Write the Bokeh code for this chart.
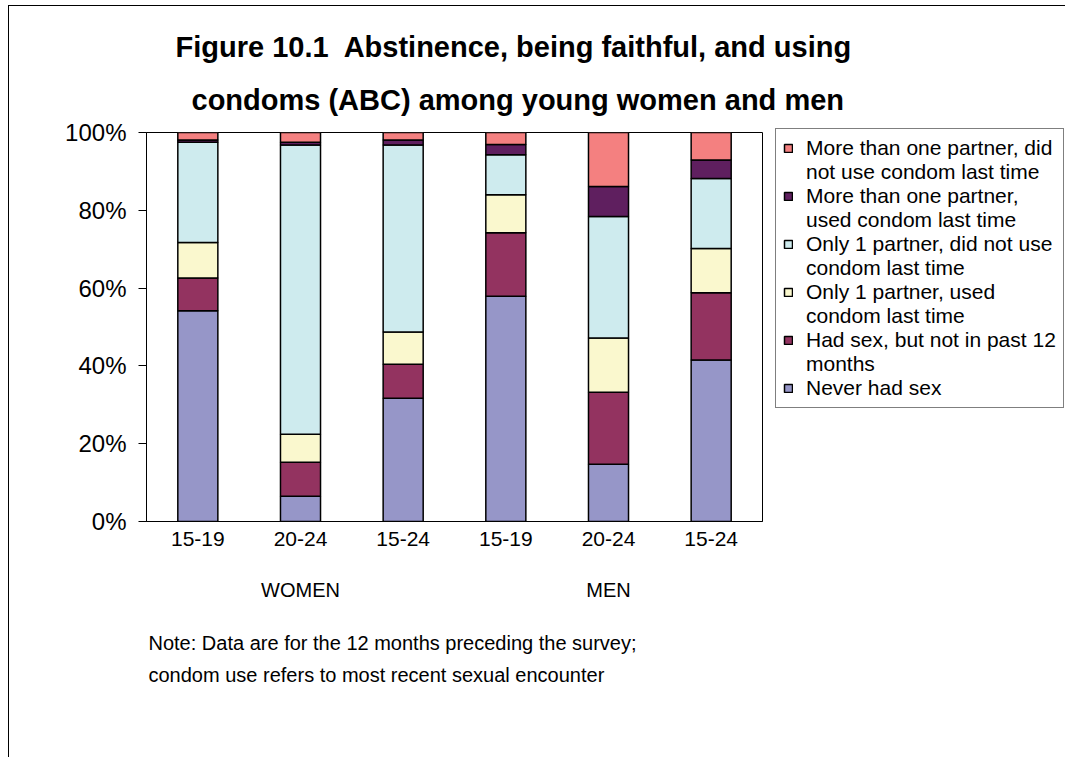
from bokeh.plotting import figure
from bokeh.models import (ColumnDataSource, Range1d, FixedTicker, PrintfTickFormatter,
                          Legend, LegendItem, LinearAxis, Title)
from bokeh.embed import file_html
from bokeh.resources import INLINE

# ---------------- data ----------------
age_labels = ["15-19", "20-24", "15-24", "15-19", "20-24", "15-24"]
groups = ["WOMEN", "WOMEN", "WOMEN", "MEN", "MEN", "MEN"]
group_names = ["WOMEN", "MEN"]

never_had_sex = [54.2, 6.5, 31.7, 57.9, 14.7, 41.5]
had_sex_not_12 = [8.4, 8.7, 8.7, 16.3, 18.5, 17.3]
one_partner_used = [9.1, 7.2, 8.3, 9.8, 14.0, 11.4]
one_partner_not_used = [25.8, 74.4, 48.1, 10.3, 31.2, 18.0]
multi_partner_used = [0.6, 0.7, 1.3, 2.6, 7.7, 4.7]
multi_partner_not_used = [1.9, 2.5, 1.9, 3.1, 13.9, 7.1]

series_keys = ["never", "had", "one_used", "one_not", "multi_used", "multi_not"]
series_values = [never_had_sex, had_sex_not_12, one_partner_used,
                 one_partner_not_used, multi_partner_used, multi_partner_not_used]
series_labels = [
    ["Never had sex"],
    ["Had sex, but not in past 12", "months"],
    ["Only 1 partner, used", "condom last time"],
    ["Only 1 partner, did not use", "condom last time"],
    ["More than one partner,", "used condom last time"],
    ["More than one partner, did", "not use condom last time"],
]
colors = ["#9696C8", "#933360", "#FAF8CE", "#CEEBEE", "#5F1F5F", "#F48080"]

title_lines = ["Figure 10.1\u00a0 Abstinence, being faithful, and using",
               "condoms (ABC) among young women and men"]
note_lines = ["Note: Data are for the 12 months preceding the survey;",
              "condom use refers to most recent sexual encounter"]

FONT = "Liberation Sans"

# ---------------- figure ----------------
xs = list(range(len(age_labels)))
data = {"x": xs}
for k, v in zip(series_keys, series_values):
    data[k] = v
source = ColumnDataSource(data)

p = figure(frame_width=616, frame_height=389, output_backend="svg",
           toolbar_location=None,
           x_range=Range1d(-0.5, len(xs) - 0.5), y_range=Range1d(0, 100),
           min_border_left=137, min_border_right=300, min_border_top=126,
           min_border_bottom=236)
p.styles = {"margin-left": "8px", "margin-top": "5px",
            "border-left": "1px solid black", "border-top": "1px solid black"}

p.background_fill_color = "white"
p.border_fill_color = "white"
p.outline_line_color = "black"
p.outline_line_width = 1
p.xgrid.visible = False
p.ygrid.visible = False

renderers = p.vbar_stack(series_keys, x="x", width=0.39, color=colors,
                         line_color="black", line_width=1.5, source=source)

# y axis
p.yaxis.ticker = FixedTicker(ticks=[0, 20, 40, 60, 80, 100])
p.yaxis.formatter = PrintfTickFormatter(format="%d%%")
p.yaxis.major_label_text_font = FONT
p.yaxis.major_label_text_font_size = "24px"
p.yaxis.major_label_text_color = "black"
p.yaxis.major_tick_out = 8
p.yaxis.major_tick_in = 0
p.yaxis.minor_tick_out = 0
p.yaxis.minor_tick_in = 0
p.yaxis.major_label_standoff = 12
p.yaxis.axis_line_color = "black"
p.yaxis.major_tick_line_color = "black"

# x axis (ages)
p.xaxis.ticker = FixedTicker(ticks=xs)
p.xaxis.major_label_overrides = {i: lab for i, lab in zip(xs, age_labels)}
p.xaxis.major_label_text_font = FONT
p.xaxis.major_label_text_font_size = "21px"
p.xaxis.major_label_text_color = "black"
p.xaxis.major_tick_out = 0
p.xaxis.major_tick_in = 0
p.xaxis.minor_tick_out = 0
p.xaxis.minor_tick_in = 0
p.xaxis.major_label_standoff = 10
p.xaxis.axis_line_color = "black"

# second axis: group names under the ages
group_centers = []
for g in group_names:
    idx = [i for i, gg in zip(xs, groups) if gg == g]
    group_centers.append(sum(idx) / len(idx))
gaxis = LinearAxis(ticker=FixedTicker(ticks=group_centers),
                   major_label_overrides={c: g for c, g in zip(group_centers, group_names)},
                   axis_line_color=None, major_tick_line_color=None,
                   minor_tick_line_color=None, major_tick_out=0, major_tick_in=0,
                   minor_tick_out=0, minor_tick_in=0,
                   major_label_standoff=30, major_label_text_font=FONT,
                   major_label_text_font_size="20px", major_label_text_color="black")
p.add_layout(gaxis, "below")

# spacer, then notes below
p.add_layout(Title(text=" ", text_font=FONT, text_font_size="16px", standoff=4), "below")
for line, so in zip(note_lines, [6, 10]):
    p.add_layout(Title(text=line, align="left", offset=2, text_font=FONT,
                       text_font_size="20px", text_font_style="normal",
                       text_color="black", standoff=so), "below")

# title above (closest to frame first)
for line, off, so, va in zip(reversed(title_lines), [45, 29], [34, 0], ["bottom", "top"]):
    p.add_layout(Title(text=line, align="left", offset=off, text_font=FONT,
                       text_font_size="29px", text_font_style="bold",
                       text_color="black", standoff=so, vertical_align=va), "above")

# legend (top entry first), continuation lines use an empty transparent glyph
dummy = p.vbar(x=[], top=[], width=0.1, fill_alpha=0, line_alpha=0)
items = []
for r, lab in reversed(list(zip(renderers, series_labels))):
    items.append(LegendItem(label=lab[0], renderers=[r]))
    for extra in lab[1:]:
        items.append(LegendItem(label=extra, renderers=[dummy]))

legend = Legend(items=items, location=(13, 113), orientation="vertical",
                label_text_font=FONT, label_text_font_size="21px",
                label_text_color="black", glyph_width=10, glyph_height=10,
                label_height=24, label_standoff=13, spacing=0, padding=7,
                margin=0, border_line_color="black", border_line_width=1,
                background_fill_color="white", background_fill_alpha=1)
p.add_layout(legend, "right")

open("out.html", "w").write(file_html(p, INLINE))
